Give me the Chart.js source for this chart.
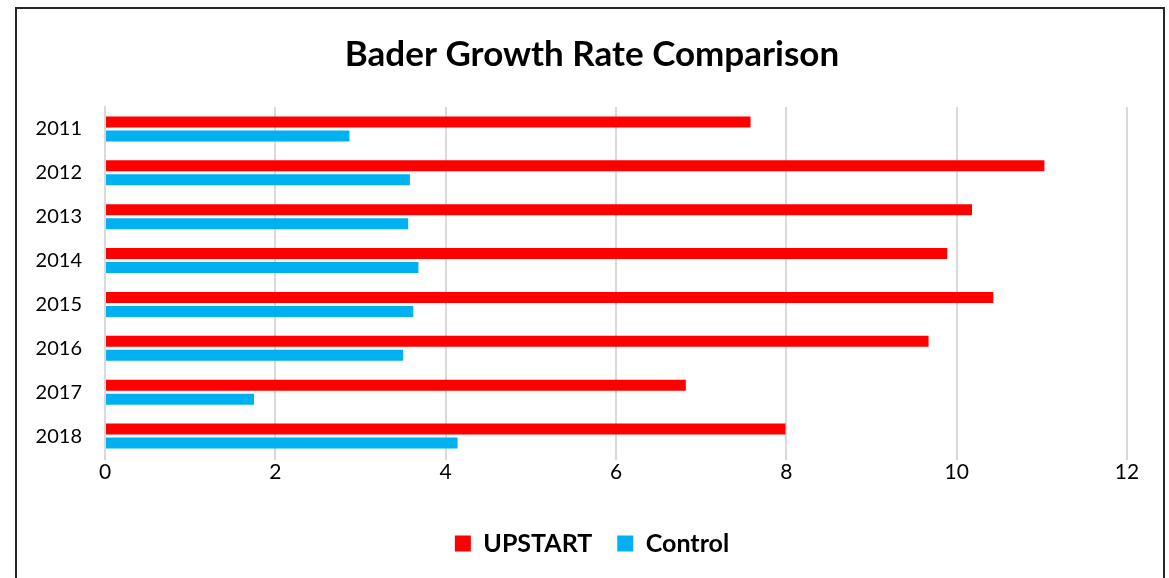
<!DOCTYPE html>
<html>
<head>
<meta charset="utf-8">
<script src="https://cdn.jsdelivr.net/npm/chart.js@4"></script>
<style>
  html, body { margin: 0; padding: 0; background: #fff; }
  #wrap { position: relative; width: 1169px; height: 578px; overflow: hidden; }
  #frame { position: absolute; left: 15px; top: 7px; width: 1150px; height: 600px; border: 2px solid #262626; box-sizing: border-box; pointer-events: none; }
  canvas { position: absolute; left: 0; top: 0; }
</style>
</head>
<body>
<div id="wrap">
  <canvas id="c" width="1169" height="578"></canvas>
  <div id="frame"></div>
</div>
<script>
const categories = ["2011", "2012", "2013", "2014", "2015", "2016", "2017", "2018"];
const upstartValues = [7.58, 11.03, 10.18, 9.89, 10.43, 9.67, 6.82, 7.99];
const controlValues = [2.87, 3.58, 3.56, 3.68, 3.62, 3.50, 1.75, 4.14];
const xTicks = [0, 2, 4, 6, 8, 10, 12];
const titleText = "Bader Growth Rate Comparison";

const FONT = "Lato, 'Noto Sans', sans-serif";

const titlePlugin = {
  id: 'centerTitle',
  afterDraw(chart) {
    const ctx = chart.ctx;
    ctx.save();
    ctx.font = "bold 35px " + FONT;
    ctx.fillStyle = '#000';
    ctx.textAlign = 'center';
    ctx.textBaseline = 'middle';
    ctx.fillText(titleText, 592, 55);
    ctx.restore();
  }
};

new Chart(document.getElementById('c'), {
  type: 'bar',
  data: {
    labels: categories,
    datasets: [
      { label: 'UPSTART', data: upstartValues, backgroundColor: '#FF0000', borderWidth: 0,
        categoryPercentage: 0.64, barPercentage: 0.786 },
      { label: 'Control', data: controlValues, backgroundColor: '#00B0F0', borderWidth: 0,
        categoryPercentage: 0.64, barPercentage: 0.786 }
    ]
  },
  plugins: [titlePlugin],
  options: {
    indexAxis: 'y',
    responsive: false,
    animation: false,
    devicePixelRatio: 1,
    layout: { padding: { left: 17, right: 2, top: 107, bottom: 12 } },
    plugins: {
      title: { display: false },
      legend: {
        position: 'bottom',
        labels: {
          color: '#000',
          font: { family: FONT, size: 25, weight: 'bold' },
          boxWidth: 16,
          boxHeight: 16,
          padding: 25,
          generateLabels: (chart) => Chart.defaults.plugins.legend.labels.generateLabels(chart).map(l => Object.assign(l, { lineWidth: 0 }))
        }
      },
      tooltip: { enabled: false }
    },
    scales: {
      x: {
        min: 0, max: 12,
        afterBuildTicks: (s) => { s.ticks = xTicks.map(v => ({ value: v })); },
        ticks: { color: '#000', font: { family: FONT, size: 21 }, padding: 0 },
        grid: { color: '#D9D9D9', lineWidth: 2, drawTicks: true, tickLength: 2 },
        border: { display: false },
        afterFit: (s) => { s.height = 48; s.paddingRight = 42; }
      },
      y: {
        ticks: { color: '#000', font: { family: FONT, size: 20 }, padding: 15 },
        grid: { display: false },
        border: { display: true, color: '#D9D9D9', width: 2 },
        afterFit: (s) => { s.width = 88; }
      }
    }
  }
});
</script>
</body>
</html>
